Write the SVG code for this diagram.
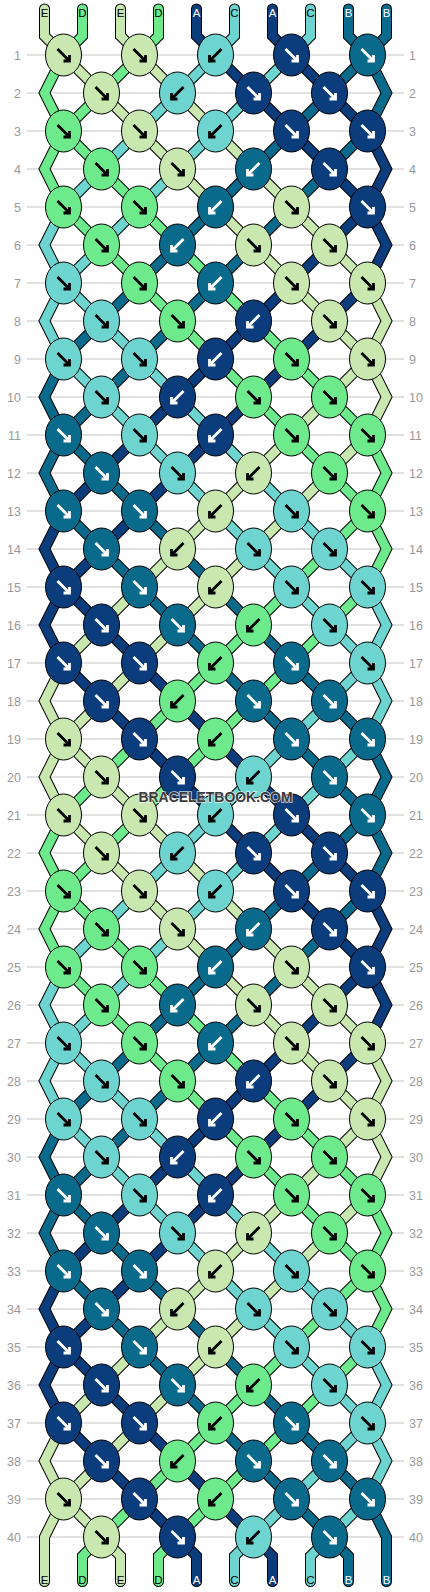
<svg xmlns="http://www.w3.org/2000/svg" xmlns:xlink="http://www.w3.org/1999/xlink" width="430" height="1592" viewBox="0 0 430 1592">
<style>
.grid{fill:none;stroke:#c4c4c4;stroke-width:1}
.num{font-family:"Liberation Sans",Arial,sans-serif;font-size:12.5px;fill:#999}
.nl{text-anchor:end}
.ol{fill:none;stroke:#000;stroke-width:11;stroke-linejoin:miter;stroke-linecap:round}
.th{fill:none;stroke-width:9;stroke-linejoin:miter;stroke-linecap:round}
.sA{stroke:#0b3c7c}.sB{stroke:#0a6a8c}.sC{stroke:#6dd4cf}.sD{stroke:#6deb8c}.sE{stroke:#c8e8b0}
.kn{stroke:#000;stroke-width:1}
.kA{fill:#0b3c7c}.kB{fill:#0a6a8c}.kC{fill:#6dd4cf}.kD{fill:#6deb8c}.kE{fill:#c8e8b0}
.aw{fill:none;stroke-width:2.8}
.ad{stroke:#000}.al{stroke:#fff}
.lbl{font-family:"Liberation Sans",Arial,sans-serif;font-size:11.5px;text-anchor:middle}
.lk{fill:#000}.lw{fill:#fff}
.wm{font-family:"Liberation Sans",Arial,sans-serif;font-weight:bold;font-size:15px;fill:#3a3a3a;stroke:#ffffff;stroke-width:1.6;stroke-opacity:0.8;paint-order:stroke;text-anchor:middle}
</style>
<defs>
<path id="t0" d="M44.5 9L44.5 36L63.5 55L367.5 359L386.5 397L367.5 435L63.5 739L44.5 777L63.5 815L367.5 1119L386.5 1157L367.5 1195L63.5 1499L44.5 1537L44.5 1581.5"/>
<path id="t1" d="M82.5 9L82.5 36L63.5 55L44.5 93L63.5 131L367.5 435L386.5 473L367.5 511L63.5 815L44.5 853L63.5 891L367.5 1195L386.5 1233L367.5 1271L82.5 1556L82.5 1581.5"/>
<path id="t2" d="M120.5 9L120.5 36L367.5 283L386.5 321L367.5 359L63.5 663L44.5 701L63.5 739L367.5 1043L386.5 1081L367.5 1119L63.5 1423L44.5 1461L63.5 1499L120.5 1556L120.5 1581.5"/>
<path id="t3" d="M158.5 9L158.5 36L63.5 131L44.5 169L63.5 207L367.5 511L386.5 549L367.5 587L63.5 891L44.5 929L63.5 967L367.5 1271L386.5 1309L367.5 1347L158.5 1556L158.5 1581.5"/>
<path id="t4" d="M196.5 9L196.5 36L367.5 207L386.5 245L367.5 283L63.5 587L44.5 625L63.5 663L367.5 967L386.5 1005L367.5 1043L63.5 1347L44.5 1385L63.5 1423L196.5 1556L196.5 1581.5"/>
<path id="t5" d="M234.5 9L234.5 36L63.5 207L44.5 245L63.5 283L367.5 587L386.5 625L367.5 663L63.5 967L44.5 1005L63.5 1043L367.5 1347L386.5 1385L367.5 1423L234.5 1556L234.5 1581.5"/>
<path id="t6" d="M272.5 9L272.5 36L367.5 131L386.5 169L367.5 207L63.5 511L44.5 549L63.5 587L367.5 891L386.5 929L367.5 967L63.5 1271L44.5 1309L63.5 1347L272.5 1556L272.5 1581.5"/>
<path id="t7" d="M310.5 9L310.5 36L63.5 283L44.5 321L63.5 359L367.5 663L386.5 701L367.5 739L63.5 1043L44.5 1081L63.5 1119L367.5 1423L386.5 1461L367.5 1499L310.5 1556L310.5 1581.5"/>
<path id="t8" d="M348.5 9L348.5 36L367.5 55L386.5 93L367.5 131L63.5 435L44.5 473L63.5 511L367.5 815L386.5 853L367.5 891L63.5 1195L44.5 1233L63.5 1271L348.5 1556L348.5 1581.5"/>
<path id="t9" d="M386.5 9L386.5 36L367.5 55L63.5 359L44.5 397L63.5 435L367.5 739L386.5 777L367.5 815L63.5 1119L44.5 1157L63.5 1195L367.5 1499L386.5 1537L386.5 1581.5"/>
<g id="Af"><ellipse class="kn kA" rx="18" ry="21"/><path class="aw al" d="M-6-6L6 6M6 0V6H0"/></g>
<g id="Ab"><ellipse class="kn kA" rx="18" ry="21"/><path class="aw al" d="M6-6L-6 6M-6 0V6H0"/></g>
<g id="Bf"><ellipse class="kn kB" rx="18" ry="21"/><path class="aw al" d="M-6-6L6 6M6 0V6H0"/></g>
<g id="Bb"><ellipse class="kn kB" rx="18" ry="21"/><path class="aw al" d="M6-6L-6 6M-6 0V6H0"/></g>
<g id="Cf"><ellipse class="kn kC" rx="18" ry="21"/><path class="aw ad" d="M-6-6L6 6M6 0V6H0"/></g>
<g id="Cb"><ellipse class="kn kC" rx="18" ry="21"/><path class="aw ad" d="M6-6L-6 6M-6 0V6H0"/></g>
<g id="Df"><ellipse class="kn kD" rx="18" ry="21"/><path class="aw ad" d="M-6-6L6 6M6 0V6H0"/></g>
<g id="Db"><ellipse class="kn kD" rx="18" ry="21"/><path class="aw ad" d="M6-6L-6 6M-6 0V6H0"/></g>
<g id="Ef"><ellipse class="kn kE" rx="18" ry="21"/><path class="aw ad" d="M-6-6L6 6M6 0V6H0"/></g>
<g id="Eb"><ellipse class="kn kE" rx="18" ry="21"/><path class="aw ad" d="M6-6L-6 6M-6 0V6H0"/></g>
</defs>
<rect width="430" height="1592" fill="#fff"/>
<path class="grid" d="M27 55H404M27 93H404M27 131H404M27 169H404M27 207H404M27 245H404M27 283H404M27 321H404M27 359H404M27 397H404M27 435H404M27 473H404M27 511H404M27 549H404M27 587H404M27 625H404M27 663H404M27 701H404M27 739H404M27 777H404M27 815H404M27 853H404M27 891H404M27 929H404M27 967H404M27 1005H404M27 1043H404M27 1081H404M27 1119H404M27 1157H404M27 1195H404M27 1233H404M27 1271H404M27 1309H404M27 1347H404M27 1385H404M27 1423H404M27 1461H404M27 1499H404M27 1537H404"/>
<g id="row-numbers">
<text class="num nl" x="21" y="59.5">1</text><text class="num" x="409" y="59.5">1</text>
<text class="num nl" x="21" y="97.5">2</text><text class="num" x="409" y="97.5">2</text>
<text class="num nl" x="21" y="135.5">3</text><text class="num" x="409" y="135.5">3</text>
<text class="num nl" x="21" y="173.5">4</text><text class="num" x="409" y="173.5">4</text>
<text class="num nl" x="21" y="211.5">5</text><text class="num" x="409" y="211.5">5</text>
<text class="num nl" x="21" y="249.5">6</text><text class="num" x="409" y="249.5">6</text>
<text class="num nl" x="21" y="287.5">7</text><text class="num" x="409" y="287.5">7</text>
<text class="num nl" x="21" y="325.5">8</text><text class="num" x="409" y="325.5">8</text>
<text class="num nl" x="21" y="363.5">9</text><text class="num" x="409" y="363.5">9</text>
<text class="num nl" x="21" y="401.5">10</text><text class="num" x="409" y="401.5">10</text>
<text class="num nl" x="21" y="439.5">11</text><text class="num" x="409" y="439.5">11</text>
<text class="num nl" x="21" y="477.5">12</text><text class="num" x="409" y="477.5">12</text>
<text class="num nl" x="21" y="515.5">13</text><text class="num" x="409" y="515.5">13</text>
<text class="num nl" x="21" y="553.5">14</text><text class="num" x="409" y="553.5">14</text>
<text class="num nl" x="21" y="591.5">15</text><text class="num" x="409" y="591.5">15</text>
<text class="num nl" x="21" y="629.5">16</text><text class="num" x="409" y="629.5">16</text>
<text class="num nl" x="21" y="667.5">17</text><text class="num" x="409" y="667.5">17</text>
<text class="num nl" x="21" y="705.5">18</text><text class="num" x="409" y="705.5">18</text>
<text class="num nl" x="21" y="743.5">19</text><text class="num" x="409" y="743.5">19</text>
<text class="num nl" x="21" y="781.5">20</text><text class="num" x="409" y="781.5">20</text>
<text class="num nl" x="21" y="819.5">21</text><text class="num" x="409" y="819.5">21</text>
<text class="num nl" x="21" y="857.5">22</text><text class="num" x="409" y="857.5">22</text>
<text class="num nl" x="21" y="895.5">23</text><text class="num" x="409" y="895.5">23</text>
<text class="num nl" x="21" y="933.5">24</text><text class="num" x="409" y="933.5">24</text>
<text class="num nl" x="21" y="971.5">25</text><text class="num" x="409" y="971.5">25</text>
<text class="num nl" x="21" y="1009.5">26</text><text class="num" x="409" y="1009.5">26</text>
<text class="num nl" x="21" y="1047.5">27</text><text class="num" x="409" y="1047.5">27</text>
<text class="num nl" x="21" y="1085.5">28</text><text class="num" x="409" y="1085.5">28</text>
<text class="num nl" x="21" y="1123.5">29</text><text class="num" x="409" y="1123.5">29</text>
<text class="num nl" x="21" y="1161.5">30</text><text class="num" x="409" y="1161.5">30</text>
<text class="num nl" x="21" y="1199.5">31</text><text class="num" x="409" y="1199.5">31</text>
<text class="num nl" x="21" y="1237.5">32</text><text class="num" x="409" y="1237.5">32</text>
<text class="num nl" x="21" y="1275.5">33</text><text class="num" x="409" y="1275.5">33</text>
<text class="num nl" x="21" y="1313.5">34</text><text class="num" x="409" y="1313.5">34</text>
<text class="num nl" x="21" y="1351.5">35</text><text class="num" x="409" y="1351.5">35</text>
<text class="num nl" x="21" y="1389.5">36</text><text class="num" x="409" y="1389.5">36</text>
<text class="num nl" x="21" y="1427.5">37</text><text class="num" x="409" y="1427.5">37</text>
<text class="num nl" x="21" y="1465.5">38</text><text class="num" x="409" y="1465.5">38</text>
<text class="num nl" x="21" y="1503.5">39</text><text class="num" x="409" y="1503.5">39</text>
<text class="num nl" x="21" y="1541.5">40</text><text class="num" x="409" y="1541.5">40</text>
</g>
<g id="connectors">
<use href="#t0" class="ol"/><use href="#t1" class="ol"/><use href="#t2" class="ol"/><use href="#t3" class="ol"/><use href="#t4" class="ol"/><use href="#t5" class="ol"/><use href="#t6" class="ol"/><use href="#t7" class="ol"/><use href="#t8" class="ol"/><use href="#t9" class="ol"/>
<use href="#t0" class="th sE"/><use href="#t1" class="th sD"/><use href="#t2" class="th sE"/><use href="#t3" class="th sD"/><use href="#t4" class="th sA"/><use href="#t5" class="th sC"/><use href="#t6" class="th sA"/><use href="#t7" class="th sC"/><use href="#t8" class="th sB"/><use href="#t9" class="th sB"/>
</g>
<g id="string-labels">
<text class="lbl lk" x="44.5" y="17">E</text><text class="lbl lk" x="82.5" y="17">D</text><text class="lbl lk" x="120.5" y="17">E</text><text class="lbl lk" x="158.5" y="17">D</text><text class="lbl lw" x="196.5" y="17">A</text><text class="lbl lk" x="234.5" y="17">C</text><text class="lbl lw" x="272.5" y="17">A</text><text class="lbl lk" x="310.5" y="17">C</text><text class="lbl lw" x="348.5" y="17">B</text><text class="lbl lw" x="386.5" y="17">B</text>
<text class="lbl lk" x="44.5" y="1584">E</text><text class="lbl lk" x="82.5" y="1584">D</text><text class="lbl lk" x="120.5" y="1584">E</text><text class="lbl lk" x="158.5" y="1584">D</text><text class="lbl lw" x="196.5" y="1584">A</text><text class="lbl lk" x="234.5" y="1584">C</text><text class="lbl lw" x="272.5" y="1584">A</text><text class="lbl lk" x="310.5" y="1584">C</text><text class="lbl lw" x="348.5" y="1584">B</text><text class="lbl lw" x="386.5" y="1584">B</text>
</g>
<g id="knots">
<g id="k01-1" transform="translate(63.5 55)"><use href="#Ef"/></g><g id="k01-2" transform="translate(139.5 55)"><use href="#Ef"/></g><g id="k01-3" transform="translate(215.5 55)"><use href="#Cb"/></g><g id="k01-4" transform="translate(291.5 55)"><use href="#Af"/></g><g id="k01-5" transform="translate(367.5 55)"><use href="#Bf"/></g>
<g id="k02-1" transform="translate(101.5 93)"><use href="#Ef"/></g><g id="k02-2" transform="translate(177.5 93)"><use href="#Cb"/></g><g id="k02-3" transform="translate(253.5 93)"><use href="#Af"/></g><g id="k02-4" transform="translate(329.5 93)"><use href="#Af"/></g>
<g id="k03-1" transform="translate(63.5 131)"><use href="#Df"/></g><g id="k03-2" transform="translate(139.5 131)"><use href="#Ef"/></g><g id="k03-3" transform="translate(215.5 131)"><use href="#Cb"/></g><g id="k03-4" transform="translate(291.5 131)"><use href="#Af"/></g><g id="k03-5" transform="translate(367.5 131)"><use href="#Af"/></g>
<g id="k04-1" transform="translate(101.5 169)"><use href="#Df"/></g><g id="k04-2" transform="translate(177.5 169)"><use href="#Ef"/></g><g id="k04-3" transform="translate(253.5 169)"><use href="#Bb"/></g><g id="k04-4" transform="translate(329.5 169)"><use href="#Af"/></g>
<g id="k05-1" transform="translate(63.5 207)"><use href="#Df"/></g><g id="k05-2" transform="translate(139.5 207)"><use href="#Df"/></g><g id="k05-3" transform="translate(215.5 207)"><use href="#Bb"/></g><g id="k05-4" transform="translate(291.5 207)"><use href="#Ef"/></g><g id="k05-5" transform="translate(367.5 207)"><use href="#Af"/></g>
<g id="k06-1" transform="translate(101.5 245)"><use href="#Df"/></g><g id="k06-2" transform="translate(177.5 245)"><use href="#Bb"/></g><g id="k06-3" transform="translate(253.5 245)"><use href="#Ef"/></g><g id="k06-4" transform="translate(329.5 245)"><use href="#Ef"/></g>
<g id="k07-1" transform="translate(63.5 283)"><use href="#Cf"/></g><g id="k07-2" transform="translate(139.5 283)"><use href="#Df"/></g><g id="k07-3" transform="translate(215.5 283)"><use href="#Bb"/></g><g id="k07-4" transform="translate(291.5 283)"><use href="#Ef"/></g><g id="k07-5" transform="translate(367.5 283)"><use href="#Ef"/></g>
<g id="k08-1" transform="translate(101.5 321)"><use href="#Cf"/></g><g id="k08-2" transform="translate(177.5 321)"><use href="#Df"/></g><g id="k08-3" transform="translate(253.5 321)"><use href="#Ab"/></g><g id="k08-4" transform="translate(329.5 321)"><use href="#Ef"/></g>
<g id="k09-1" transform="translate(63.5 359)"><use href="#Cf"/></g><g id="k09-2" transform="translate(139.5 359)"><use href="#Cf"/></g><g id="k09-3" transform="translate(215.5 359)"><use href="#Ab"/></g><g id="k09-4" transform="translate(291.5 359)"><use href="#Df"/></g><g id="k09-5" transform="translate(367.5 359)"><use href="#Ef"/></g>
<g id="k10-1" transform="translate(101.5 397)"><use href="#Cf"/></g><g id="k10-2" transform="translate(177.5 397)"><use href="#Ab"/></g><g id="k10-3" transform="translate(253.5 397)"><use href="#Df"/></g><g id="k10-4" transform="translate(329.5 397)"><use href="#Df"/></g>
<g id="k11-1" transform="translate(63.5 435)"><use href="#Bf"/></g><g id="k11-2" transform="translate(139.5 435)"><use href="#Cf"/></g><g id="k11-3" transform="translate(215.5 435)"><use href="#Ab"/></g><g id="k11-4" transform="translate(291.5 435)"><use href="#Df"/></g><g id="k11-5" transform="translate(367.5 435)"><use href="#Df"/></g>
<g id="k12-1" transform="translate(101.5 473)"><use href="#Bf"/></g><g id="k12-2" transform="translate(177.5 473)"><use href="#Cf"/></g><g id="k12-3" transform="translate(253.5 473)"><use href="#Eb"/></g><g id="k12-4" transform="translate(329.5 473)"><use href="#Df"/></g>
<g id="k13-1" transform="translate(63.5 511)"><use href="#Bf"/></g><g id="k13-2" transform="translate(139.5 511)"><use href="#Bf"/></g><g id="k13-3" transform="translate(215.5 511)"><use href="#Eb"/></g><g id="k13-4" transform="translate(291.5 511)"><use href="#Cf"/></g><g id="k13-5" transform="translate(367.5 511)"><use href="#Df"/></g>
<g id="k14-1" transform="translate(101.5 549)"><use href="#Bf"/></g><g id="k14-2" transform="translate(177.5 549)"><use href="#Eb"/></g><g id="k14-3" transform="translate(253.5 549)"><use href="#Cf"/></g><g id="k14-4" transform="translate(329.5 549)"><use href="#Cf"/></g>
<g id="k15-1" transform="translate(63.5 587)"><use href="#Af"/></g><g id="k15-2" transform="translate(139.5 587)"><use href="#Bf"/></g><g id="k15-3" transform="translate(215.5 587)"><use href="#Eb"/></g><g id="k15-4" transform="translate(291.5 587)"><use href="#Cf"/></g><g id="k15-5" transform="translate(367.5 587)"><use href="#Cf"/></g>
<g id="k16-1" transform="translate(101.5 625)"><use href="#Af"/></g><g id="k16-2" transform="translate(177.5 625)"><use href="#Bf"/></g><g id="k16-3" transform="translate(253.5 625)"><use href="#Db"/></g><g id="k16-4" transform="translate(329.5 625)"><use href="#Cf"/></g>
<g id="k17-1" transform="translate(63.5 663)"><use href="#Af"/></g><g id="k17-2" transform="translate(139.5 663)"><use href="#Af"/></g><g id="k17-3" transform="translate(215.5 663)"><use href="#Db"/></g><g id="k17-4" transform="translate(291.5 663)"><use href="#Bf"/></g><g id="k17-5" transform="translate(367.5 663)"><use href="#Cf"/></g>
<g id="k18-1" transform="translate(101.5 701)"><use href="#Af"/></g><g id="k18-2" transform="translate(177.5 701)"><use href="#Db"/></g><g id="k18-3" transform="translate(253.5 701)"><use href="#Bf"/></g><g id="k18-4" transform="translate(329.5 701)"><use href="#Bf"/></g>
<g id="k19-1" transform="translate(63.5 739)"><use href="#Ef"/></g><g id="k19-2" transform="translate(139.5 739)"><use href="#Af"/></g><g id="k19-3" transform="translate(215.5 739)"><use href="#Db"/></g><g id="k19-4" transform="translate(291.5 739)"><use href="#Bf"/></g><g id="k19-5" transform="translate(367.5 739)"><use href="#Bf"/></g>
<g id="k20-1" transform="translate(101.5 777)"><use href="#Ef"/></g><g id="k20-2" transform="translate(177.5 777)"><use href="#Af"/></g><g id="k20-3" transform="translate(253.5 777)"><use href="#Cb"/></g><g id="k20-4" transform="translate(329.5 777)"><use href="#Bf"/></g>
<g id="k21-1" transform="translate(63.5 815)"><use href="#Ef"/></g><g id="k21-2" transform="translate(139.5 815)"><use href="#Ef"/></g><g id="k21-3" transform="translate(215.5 815)"><use href="#Cb"/></g><g id="k21-4" transform="translate(291.5 815)"><use href="#Af"/></g><g id="k21-5" transform="translate(367.5 815)"><use href="#Bf"/></g>
<g id="k22-1" transform="translate(101.5 853)"><use href="#Ef"/></g><g id="k22-2" transform="translate(177.5 853)"><use href="#Cb"/></g><g id="k22-3" transform="translate(253.5 853)"><use href="#Af"/></g><g id="k22-4" transform="translate(329.5 853)"><use href="#Af"/></g>
<g id="k23-1" transform="translate(63.5 891)"><use href="#Df"/></g><g id="k23-2" transform="translate(139.5 891)"><use href="#Ef"/></g><g id="k23-3" transform="translate(215.5 891)"><use href="#Cb"/></g><g id="k23-4" transform="translate(291.5 891)"><use href="#Af"/></g><g id="k23-5" transform="translate(367.5 891)"><use href="#Af"/></g>
<g id="k24-1" transform="translate(101.5 929)"><use href="#Df"/></g><g id="k24-2" transform="translate(177.5 929)"><use href="#Ef"/></g><g id="k24-3" transform="translate(253.5 929)"><use href="#Bb"/></g><g id="k24-4" transform="translate(329.5 929)"><use href="#Af"/></g>
<g id="k25-1" transform="translate(63.5 967)"><use href="#Df"/></g><g id="k25-2" transform="translate(139.5 967)"><use href="#Df"/></g><g id="k25-3" transform="translate(215.5 967)"><use href="#Bb"/></g><g id="k25-4" transform="translate(291.5 967)"><use href="#Ef"/></g><g id="k25-5" transform="translate(367.5 967)"><use href="#Af"/></g>
<g id="k26-1" transform="translate(101.5 1005)"><use href="#Df"/></g><g id="k26-2" transform="translate(177.5 1005)"><use href="#Bb"/></g><g id="k26-3" transform="translate(253.5 1005)"><use href="#Ef"/></g><g id="k26-4" transform="translate(329.5 1005)"><use href="#Ef"/></g>
<g id="k27-1" transform="translate(63.5 1043)"><use href="#Cf"/></g><g id="k27-2" transform="translate(139.5 1043)"><use href="#Df"/></g><g id="k27-3" transform="translate(215.5 1043)"><use href="#Bb"/></g><g id="k27-4" transform="translate(291.5 1043)"><use href="#Ef"/></g><g id="k27-5" transform="translate(367.5 1043)"><use href="#Ef"/></g>
<g id="k28-1" transform="translate(101.5 1081)"><use href="#Cf"/></g><g id="k28-2" transform="translate(177.5 1081)"><use href="#Df"/></g><g id="k28-3" transform="translate(253.5 1081)"><use href="#Ab"/></g><g id="k28-4" transform="translate(329.5 1081)"><use href="#Ef"/></g>
<g id="k29-1" transform="translate(63.5 1119)"><use href="#Cf"/></g><g id="k29-2" transform="translate(139.5 1119)"><use href="#Cf"/></g><g id="k29-3" transform="translate(215.5 1119)"><use href="#Ab"/></g><g id="k29-4" transform="translate(291.5 1119)"><use href="#Df"/></g><g id="k29-5" transform="translate(367.5 1119)"><use href="#Ef"/></g>
<g id="k30-1" transform="translate(101.5 1157)"><use href="#Cf"/></g><g id="k30-2" transform="translate(177.5 1157)"><use href="#Ab"/></g><g id="k30-3" transform="translate(253.5 1157)"><use href="#Df"/></g><g id="k30-4" transform="translate(329.5 1157)"><use href="#Df"/></g>
<g id="k31-1" transform="translate(63.5 1195)"><use href="#Bf"/></g><g id="k31-2" transform="translate(139.5 1195)"><use href="#Cf"/></g><g id="k31-3" transform="translate(215.5 1195)"><use href="#Ab"/></g><g id="k31-4" transform="translate(291.5 1195)"><use href="#Df"/></g><g id="k31-5" transform="translate(367.5 1195)"><use href="#Df"/></g>
<g id="k32-1" transform="translate(101.5 1233)"><use href="#Bf"/></g><g id="k32-2" transform="translate(177.5 1233)"><use href="#Cf"/></g><g id="k32-3" transform="translate(253.5 1233)"><use href="#Eb"/></g><g id="k32-4" transform="translate(329.5 1233)"><use href="#Df"/></g>
<g id="k33-1" transform="translate(63.5 1271)"><use href="#Bf"/></g><g id="k33-2" transform="translate(139.5 1271)"><use href="#Bf"/></g><g id="k33-3" transform="translate(215.5 1271)"><use href="#Eb"/></g><g id="k33-4" transform="translate(291.5 1271)"><use href="#Cf"/></g><g id="k33-5" transform="translate(367.5 1271)"><use href="#Df"/></g>
<g id="k34-1" transform="translate(101.5 1309)"><use href="#Bf"/></g><g id="k34-2" transform="translate(177.5 1309)"><use href="#Eb"/></g><g id="k34-3" transform="translate(253.5 1309)"><use href="#Cf"/></g><g id="k34-4" transform="translate(329.5 1309)"><use href="#Cf"/></g>
<g id="k35-1" transform="translate(63.5 1347)"><use href="#Af"/></g><g id="k35-2" transform="translate(139.5 1347)"><use href="#Bf"/></g><g id="k35-3" transform="translate(215.5 1347)"><use href="#Eb"/></g><g id="k35-4" transform="translate(291.5 1347)"><use href="#Cf"/></g><g id="k35-5" transform="translate(367.5 1347)"><use href="#Cf"/></g>
<g id="k36-1" transform="translate(101.5 1385)"><use href="#Af"/></g><g id="k36-2" transform="translate(177.5 1385)"><use href="#Bf"/></g><g id="k36-3" transform="translate(253.5 1385)"><use href="#Db"/></g><g id="k36-4" transform="translate(329.5 1385)"><use href="#Cf"/></g>
<g id="k37-1" transform="translate(63.5 1423)"><use href="#Af"/></g><g id="k37-2" transform="translate(139.5 1423)"><use href="#Af"/></g><g id="k37-3" transform="translate(215.5 1423)"><use href="#Db"/></g><g id="k37-4" transform="translate(291.5 1423)"><use href="#Bf"/></g><g id="k37-5" transform="translate(367.5 1423)"><use href="#Cf"/></g>
<g id="k38-1" transform="translate(101.5 1461)"><use href="#Af"/></g><g id="k38-2" transform="translate(177.5 1461)"><use href="#Db"/></g><g id="k38-3" transform="translate(253.5 1461)"><use href="#Bf"/></g><g id="k38-4" transform="translate(329.5 1461)"><use href="#Bf"/></g>
<g id="k39-1" transform="translate(63.5 1499)"><use href="#Ef"/></g><g id="k39-2" transform="translate(139.5 1499)"><use href="#Af"/></g><g id="k39-3" transform="translate(215.5 1499)"><use href="#Db"/></g><g id="k39-4" transform="translate(291.5 1499)"><use href="#Bf"/></g><g id="k39-5" transform="translate(367.5 1499)"><use href="#Bf"/></g>
<g id="k40-1" transform="translate(101.5 1537)"><use href="#Ef"/></g><g id="k40-2" transform="translate(177.5 1537)"><use href="#Af"/></g><g id="k40-3" transform="translate(253.5 1537)"><use href="#Cb"/></g><g id="k40-4" transform="translate(329.5 1537)"><use href="#Bf"/></g>
</g>
<text class="wm" x="215.5" y="801.5" textLength="154" lengthAdjust="spacingAndGlyphs">BRACELETBOOK.COM</text>
</svg>
